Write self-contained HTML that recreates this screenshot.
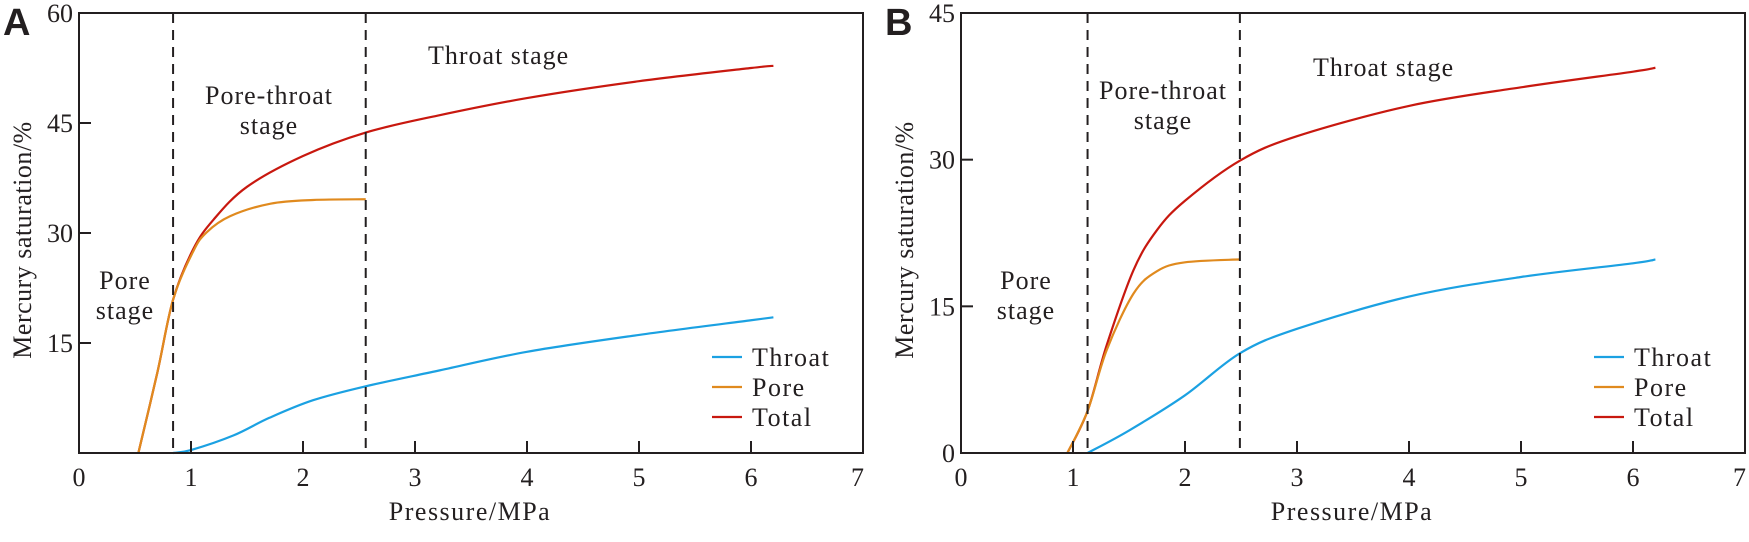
<!DOCTYPE html>
<html><head><meta charset="utf-8"><style>
html,body{margin:0;padding:0;background:#fff;}
svg{display:block;}
text{font-family:"Liberation Serif",serif;fill:#231f20;}
</style></head><body>
<svg id="chart" width="1749" height="542" viewBox="0 0 1749 542" xmlns="http://www.w3.org/2000/svg"></svg>
<script>
const xTicks = [0,1,2,3,4,5,6,7];
const yTicksA = [15,30,45,60];
const yTicksB = [0,15,30,45];
const legendLabels = ["Throat","Pore","Total"];
const colors = ["#1ba1e2","#e08a1e","#c8180f"];
// Panel A
const throatA_x = [0.84,1.0,1.38,1.7,2.09,2.56,3.2,4,5,6,6.2];
const throatA_y = [0,0.4,2.4,4.8,7.2,9.1,11.2,13.8,16.1,18.1,18.5];
const poreA_x = [0.53,0.7,0.84,1.02,1.14,1.35,1.71,2.09,2.56];
const poreA_y = [0,11,20.9,27.5,30.1,32.3,34,34.5,34.6];
const totalA_x = [0.53,0.7,0.84,1.02,1.2,1.5,2.0,2.56,3.2,4,5,6,6.2];
const totalA_y = [0,11,20.9,27.8,31.8,36.3,40.5,43.7,46.0,48.4,50.7,52.5,52.8];
const dashA = [0.84,2.56];
// Panel B
const throatB_x = [1.13,1.5,2.0,2.49,3,4,5,6,6.2];
const throatB_y = [0,2.3,5.9,10.2,12.7,16,18,19.4,19.8];
const poreB_x = [0.95,1.13,1.3,1.54,1.75,2.0,2.49];
const poreB_y = [0,4.3,10.5,16.3,18.6,19.5,19.8];
const totalB_x = [0.95,1.13,1.3,1.54,1.75,2.0,2.49,3,4,5,6,6.2];
const totalB_y = [0,4.3,11.0,18.7,22.8,25.8,29.9,32.4,35.5,37.4,39.0,39.4];
const dashB = [1.13,2.49];

const NS="http://www.w3.org/2000/svg";
const svg=document.getElementById('chart');
function mk(tag,attrs,parent){const e=document.createElementNS(NS,tag);for(const k in attrs)e.setAttribute(k,attrs[k]);(parent||svg).appendChild(e);return e;}
function smooth(pts){let d=`M${pts[0][0]},${pts[0][1]}`;for(let i=0;i<pts.length-1;i++){const p0=pts[i-1]||pts[i],p1=pts[i],p2=pts[i+1],p3=pts[i+2]||p2;const c1=[p1[0]+(p2[0]-p0[0])/6,p1[1]+(p2[1]-p0[1])/6],c2=[p2[0]-(p3[0]-p1[0])/6,p2[1]-(p3[1]-p1[1])/6];d+=` C${c1[0]},${c1[1]} ${c2[0]},${c2[1]} ${p2[0]},${p2[1]}`;}return d;}

function panel(cfg){
  const L=cfg.left,R=cfg.left+784,T=13,B=453;
  const xs=v=>L+v*(R-L)/7;
  const ys=v=>B-(v-cfg.ymin)*(B-T)/(cfg.ymax-cfg.ymin);
  const g=mk('g',{});
  
  
  const series=[[cfg.throat_x,cfg.throat_y],[cfg.pore_x,cfg.pore_y],[cfg.total_x,cfg.total_y]];
  [2,1,0].forEach(i=>{
    const pts=series[i][0].map((x,j)=>[xs(x),ys(series[i][1][j])]);
    const p=mk('path',{d:smooth(pts),fill:'none',stroke:colors[i],'stroke-width':2.2},g);
    
    
  });
  cfg.dash.forEach((v,i)=>{
    const l=mk('line',{x1:xs(v),x2:xs(v),y1:T,y2:B,stroke:'#231f20','stroke-width':2,'stroke-dasharray':'10,7'},g);
    
    
  });
  const box=mk('rect',{x:L,y:T,width:R-L,height:B-T,fill:'none',stroke:'#231f20','stroke-width':2},g);
  
  
  xTicks.forEach(v=>{
    if(v>0&&v<7){const t=mk('line',{x1:xs(v),x2:xs(v),y1:B,y2:B-12,stroke:'#231f20','stroke-width':2},g);
    
    }
    const last=v===7;
    const tx=mk('text',{x:last?xs(v)+1:xs(v),y:486,'font-size':26,'text-anchor':last?'end':'middle'},g);tx.textContent=v;
    
    
  });
  cfg.yticks.forEach(v=>{
    if(v>cfg.ymin&&v<cfg.ymax){const t=mk('line',{x1:L,x2:L+12,y1:ys(v),y2:ys(v),stroke:'#231f20','stroke-width':2},g);
    
    }
    const tx=mk('text',{x:L-6,y:ys(v)+9,'font-size':26,'text-anchor':'end'},g);tx.textContent=v;
    
    
  });
  const xt=mk('text',{x:L+391,y:520,'font-size':26,'text-anchor':'middle','letter-spacing':'1.5'},g);xt.textContent='Pressure/MPa';
  
  
  const yt=mk('text',{x:0,y:0,'font-size':26,'text-anchor':'middle','letter-spacing':'0.5',transform:`translate(${L-48},240) rotate(-90)`},g);yt.textContent='Mercury saturation/%';
  
  
  const lab=mk('text',{x:cfg.lx,y:35,'font-size':38,'font-weight':'bold',style:'font-family:"Liberation Sans",sans-serif'},g);lab.textContent=cfg.label;
  
  
  cfg.texts.forEach(t=>{
    const e=mk('text',{x:t[0],y:t[1],'font-size':26,'text-anchor':t[3]||'middle','letter-spacing':'1'},g);e.textContent=t[2];
    
    
  });
  legendLabels.forEach((n,i)=>{
    const y=357+i*30;
    const l=mk('line',{x1:R-151,x2:R-121,y1:y,y2:y,stroke:colors[i],'stroke-width':2.2},g);
    
    
    const t=mk('text',{x:R-111,y:y+9,'font-size':26,'letter-spacing':'1.5'},g);t.textContent=n;
    
    
  });
}
panel({id:'panel-a',label:'A',lx:3,left:79,ymin:0,ymax:60,yticks:yTicksA,dash:dashA,
  throat_x:throatA_x,throat_y:throatA_y,pore_x:poreA_x,pore_y:poreA_y,total_x:totalA_x,total_y:totalA_y,
  texts:[[269,104,'Pore-throat'],[269,134,'stage'],[125,289,'Pore'],[125,319,'stage'],[428,64,'Throat  stage','start']]});
panel({id:'panel-b',label:'B',lx:885,left:961,ymin:0,ymax:45,yticks:yTicksB,dash:dashB,
  throat_x:throatB_x,throat_y:throatB_y,pore_x:poreB_x,pore_y:poreB_y,total_x:totalB_x,total_y:totalB_y,
  texts:[[1163,99,'Pore-throat'],[1163,129,'stage'],[1026,289,'Pore'],[1026,319,'stage'],[1313,76,'Throat  stage','start']]});
</script>
</body></html>
